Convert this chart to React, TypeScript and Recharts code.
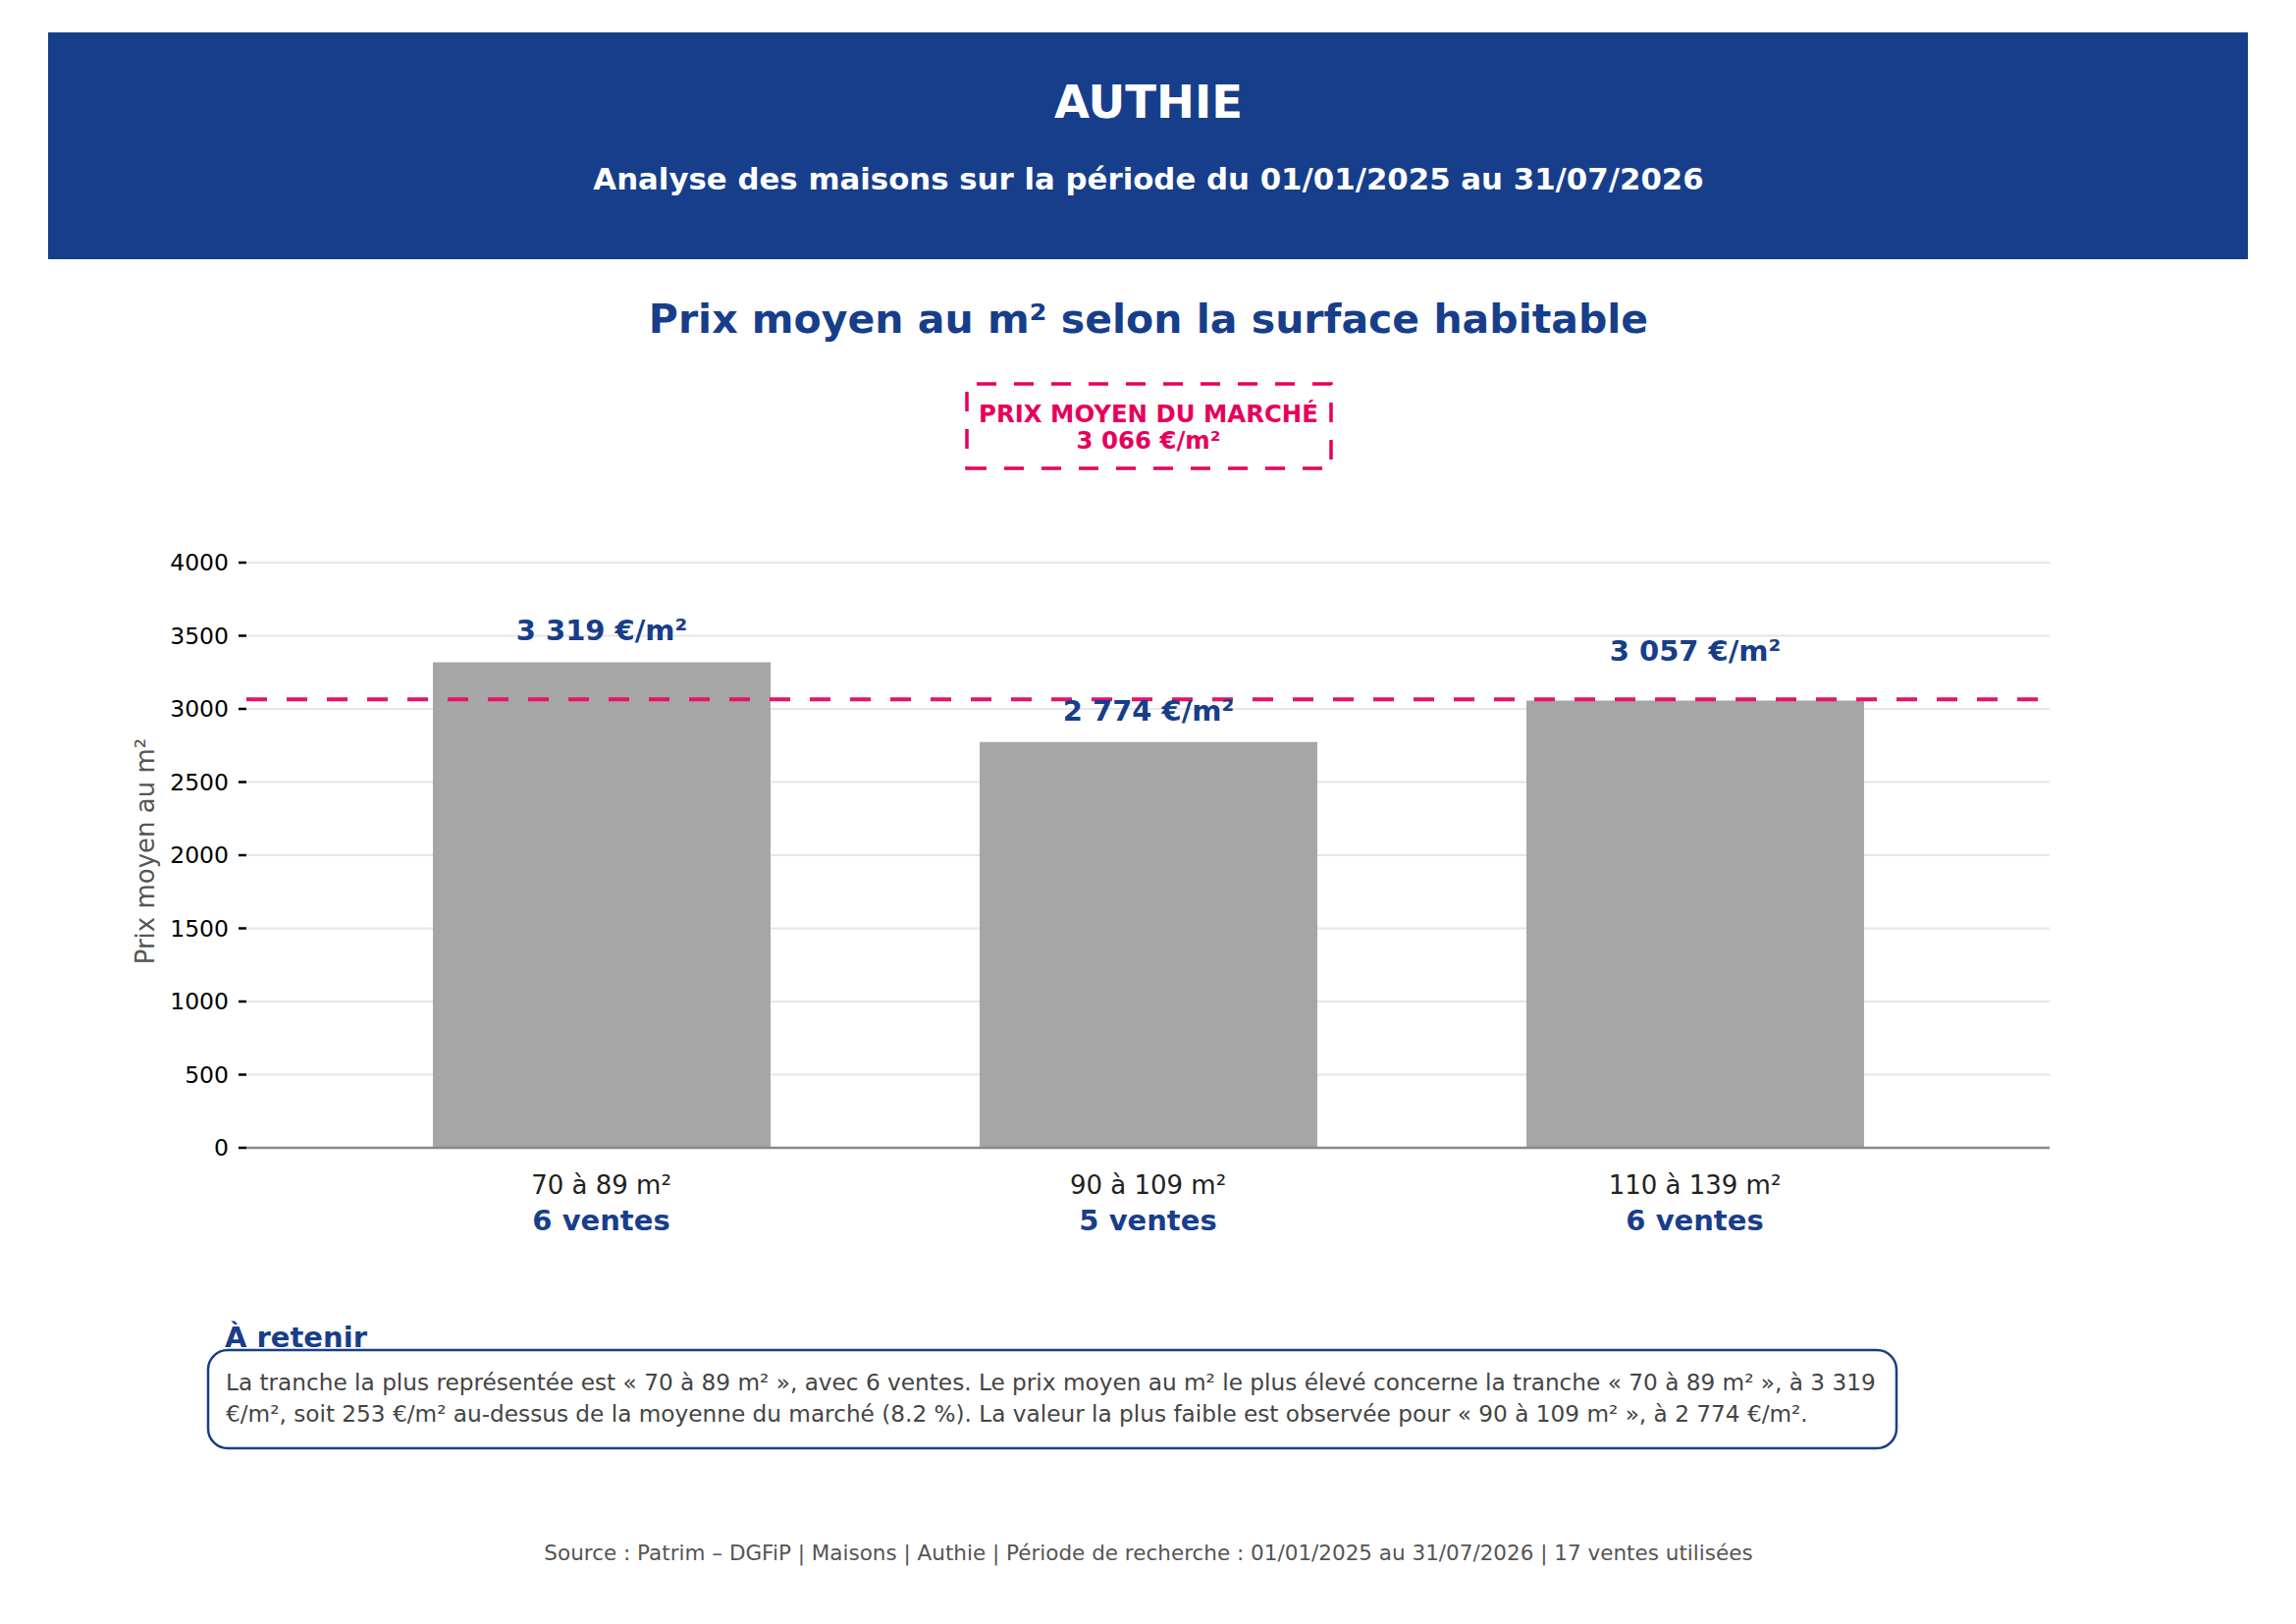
import React from "react";
import { BarChart, Bar, XAxis, YAxis, CartesianGrid, ReferenceLine, LabelList } from "recharts";

const TRANCHES = ["70 à 89 m²", "90 à 109 m²", "110 à 139 m²"];
const PRIX_M2 = [3319, 2774, 3057];
const VENTES = [6, 5, 6];
const PRIX_MOYEN = 3066;
const Y_TICKS = [0, 500, 1000, 1500, 2000, 2500, 3000, 3500, 4000];

const TEXTE_RETENIR = [
  "La tranche la plus représentée est « 70 à 89 m² », avec 6 ventes. Le prix moyen au m² le plus élevé concerne la tranche « 70 à 89 m² », à 3 319",
  "€/m², soit 253 €/m² au-dessus de la moyenne du marché (8.2 %). La valeur la plus faible est observée pour « 90 à 109 m² », à 2 774 €/m².",
];
const SOURCE = "Source : Patrim – DGFiP | Maisons | Authie | Période de recherche : 01/01/2025 au 31/07/2026 | 17 ventes utilisées";

const BLUE = "#173e8a";
const PINK = "#e6005c";
const W = 2339;
const H = 1654;
const CX = 1170;

const data = TRANCHES.map((t, i) => ({ tranche: t, prix: PRIX_M2[i], ventes: VENTES[i] }));

const fmt = (v: number) => String(v).replace(/\B(?=(\d{3})+(?!\d))/g, " ");

function CatTick({ x, y, payload, index }: any) {
  const i = payload?.index ?? index;
  return (
    <g>
      <text x={x} y={y + 47} textAnchor="middle" fontSize={26} fill="#222">
        {payload.value}
      </text>
      <text x={x} y={y + 84} textAnchor="middle" fontSize={29} fontWeight="bold" fill={BLUE}>
        {VENTES[i]} ventes
      </text>
    </g>
  );
}

function BarValue(props: any) {
  const { x, y, width, value } = props;
  // label pushed up when it would sit on the market average line
  const gap = Math.abs(value - PRIX_MOYEN) < 150 ? 41 : 22;
  return (
    <text x={x + width / 2} y={y - gap} textAnchor="middle" fontSize={29} fontWeight="bold" fill={BLUE}>
      {fmt(value)} €/m²
    </text>
  );
}

function YLabel({ viewBox }: any) {
  const cx = 157;
  const cy = viewBox.y + viewBox.height / 2 - 4;
  return (
    <text x={cx} y={cy} transform={`rotate(-90, ${cx}, ${cy})`} textAnchor="middle" fontSize={26} fill="#555">
      Prix moyen au m²
    </text>
  );
}

// market price box, path drawn from bottom-left like matplotlib so the dashes fall the same way
const bx0 = 985, bx1 = 1356, by0 = 391, by1 = 477;

export default function App() {
  return (
    <div style={{ position: "absolute", left: 0, top: 0, width: W, height: H, background: "#fff", fontFamily: "'DejaVu Sans', sans-serif" }}>
      <svg width={W} height={H} style={{ position: "absolute", left: 0, top: 0 }} fontFamily="'DejaVu Sans', sans-serif">
        <rect x={49} y={33} width={2241} height={231} fill={BLUE} />
        <text x={CX} y={120} textAnchor="middle" fontSize={46.5} fontWeight="bold" fill="#fff">AUTHIE</text>
        <text x={CX} y={193} textAnchor="middle" fontSize={30.8} fontWeight="bold" fill="#fff">
          Analyse des maisons sur la période du 01/01/2025 au 31/07/2026
        </text>
        <text x={CX} y={339} textAnchor="middle" fontSize={41} fontWeight="bold" fill={BLUE}>
          Prix moyen au m² selon la surface habitable
        </text>

        <path
          d={`M${bx0},${by1} L${bx1},${by1} L${bx1},${by0} L${bx0},${by0} Z`}
          fill="#fff"
          stroke={PINK}
          strokeWidth={3.5}
          strokeDasharray="20 18"
        />
        <text x={CX} y={430} textAnchor="middle" fontSize={24.4} fontWeight="bold" fill={PINK}>PRIX MOYEN DU MARCHÉ</text>
        <text x={CX} y={457} textAnchor="middle" fontSize={24.4} fontWeight="bold" fill={PINK}>{fmt(PRIX_MOYEN)} €/m²</text>

        <rect x={212} y={1375} width={1720} height={100} rx={20} ry={20} fill="#fff" stroke={BLUE} strokeWidth={2.5} />
        <text x={229} y={1372} fontSize={29} fontWeight="bold" fill={BLUE}>À retenir</text>
        {TEXTE_RETENIR.map((l, i) => (
          <text key={i} x={230} y={1416 + i * 31.5} fontSize={23.2} fill="#444">{l}</text>
        ))}
        <text x={CX} y={1589} textAnchor="middle" fontSize={21.5} fill="#555">{SOURCE}</text>
      </svg>

      <div style={{ position: "absolute", left: 0, top: 0 }}>
        <BarChart
          width={W}
          height={H}
          data={data}
          margin={{ top: 573, right: 251, bottom: 365, left: 111 }}
          style={{ fontFamily: "'DejaVu Sans', sans-serif" }}
        >
          <CartesianGrid vertical={false} stroke="#e6e6e6" strokeWidth={2} />
          <XAxis
            dataKey="tranche"
            height={120}
            padding={{ left: 83, right: 83 }}
            axisLine={{ stroke: "#888", strokeWidth: 2.5 }}
            tickLine={false}
            tickSize={0}
            tickMargin={0}
            interval={0}
            tick={<CatTick />}
          />
          <YAxis
            width={140}
            domain={[0, 4000]}
            ticks={Y_TICKS}
            interval={0}
            axisLine={false}
            tickLine={{ stroke: "#000", strokeWidth: 2.5 }}
            tickSize={8}
            tickMargin={10}
            tick={{ fontSize: 23.5, fill: "#000" }}
            label={<YLabel />}
          />
          <Bar dataKey="prix" fill="#a6a6a6" barSize={344} isAnimationActive={false}>
            <LabelList dataKey="prix" content={<BarValue />} />
          </Bar>
          <ReferenceLine y={PRIX_MOYEN} stroke="#e8126a" strokeWidth={4} strokeDasharray="21 20" />
        </BarChart>
      </div>
    </div>
  );
}
